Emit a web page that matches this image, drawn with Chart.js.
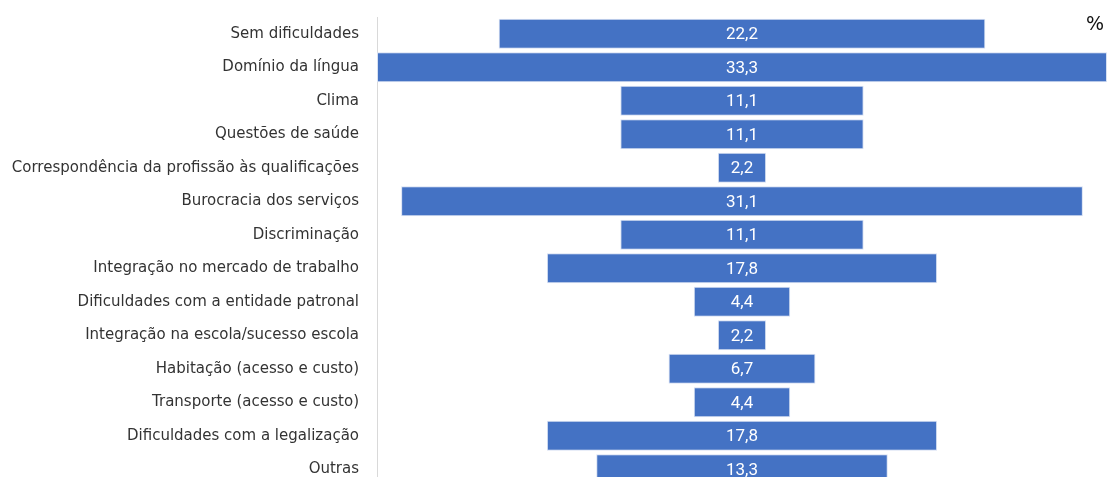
<!DOCTYPE html>
<html>
<head>
<meta charset="utf-8">
<script src="https://cdn.jsdelivr.net/npm/chart.js@4"></script>
<style>
  html, body { margin: 0; padding: 0; background: #fff; overflow: hidden; }
  #wrap { position: relative; width: 1112px; height: 492px; }
  #pct { position: absolute; left: 1086px; top: 12px; font: 19px "DejaVu Sans", sans-serif; color: #111; }
</style>
</head>
<body>
<div id="wrap">
  <canvas id="funnelChart" width="1112" height="492"></canvas>
  <div id="pct">%</div>
</div>
<script>
var categories = [
  'Sem dificuldades',
  'Domínio da língua',
  'Clima',
  'Questões de saúde',
  'Correspondência da profissão às qualificações',
  'Burocracia dos serviços',
  'Discriminação',
  'Integração no mercado de trabalho',
  'Dificuldades com a entidade patronal',
  'Integração na escola/sucesso escola',
  'Habitação (acesso e custo)',
  'Transporte (acesso e custo)',
  'Dificuldades com a legalização',
  'Outras'
];
var values = [22.2, 33.3, 11.1, 11.1, 2.2, 31.1, 11.1, 17.8, 4.4, 2.2, 6.7, 4.4, 17.8, 13.3];

// barras centradas: [-v/2, v/2]
var spans = values.map(function (v) { return [-v / 2, v / 2]; });

var valueLabels = {            // texto branco no centro de cada barra
  id: 'valueLabels',
  afterDatasetsDraw: function (chart) {
    var ctx = chart.ctx;
    var meta = chart.getDatasetMeta(0);
    ctx.save();
    ctx.fillStyle = '#ffffff';
    ctx.font = '17px Roboto, sans-serif';
    ctx.textAlign = 'center';
    ctx.textBaseline = 'middle';
    meta.data.forEach(function (bar, i) {
      ctx.fillText(values[i].toFixed(1).replace('.', ','), (bar.x + bar.base) / 2, bar.y + 1);
    });
    ctx.restore();
  }
};

var funnel = new Chart(document.getElementById('funnelChart').getContext('2d'), {
  type: 'bar',
  data: {
    labels: categories,
    datasets: [{
      data: spans,
      backgroundColor: '#4472c4',
      borderColor: '#d6e0f2',
      borderWidth: 1,
      borderSkipped: false,
      barPercentage: 0.9,
      categoryPercentage: 1
    }]
  },
  options: {
    indexAxis: 'y',
    responsive: false,
    animation: false,
    layout: { padding: { top: 17, right: 5, bottom: 6, left: 0 } },
    plugins: { legend: { display: false }, tooltip: { enabled: false } },
    scales: {
      x: {
        display: false,
        min: -16.65,
        max: 16.65
      },
      y: {
        grid: { display: false, drawTicks: false },
        border: { display: true, color: '#d9d9d9', width: 1 },
        ticks: {
          color: '#333',
          padding: 18,
          font: { family: 'DejaVu Sans', size: 15 }
        },
        afterFit: function (scale) {
          scale.width = 377;
          scale.paddingTop = 0;
          scale.paddingBottom = 0;
        }
      }
    }
  },
  plugins: [valueLabels]
});
</script>
</body>
</html>
